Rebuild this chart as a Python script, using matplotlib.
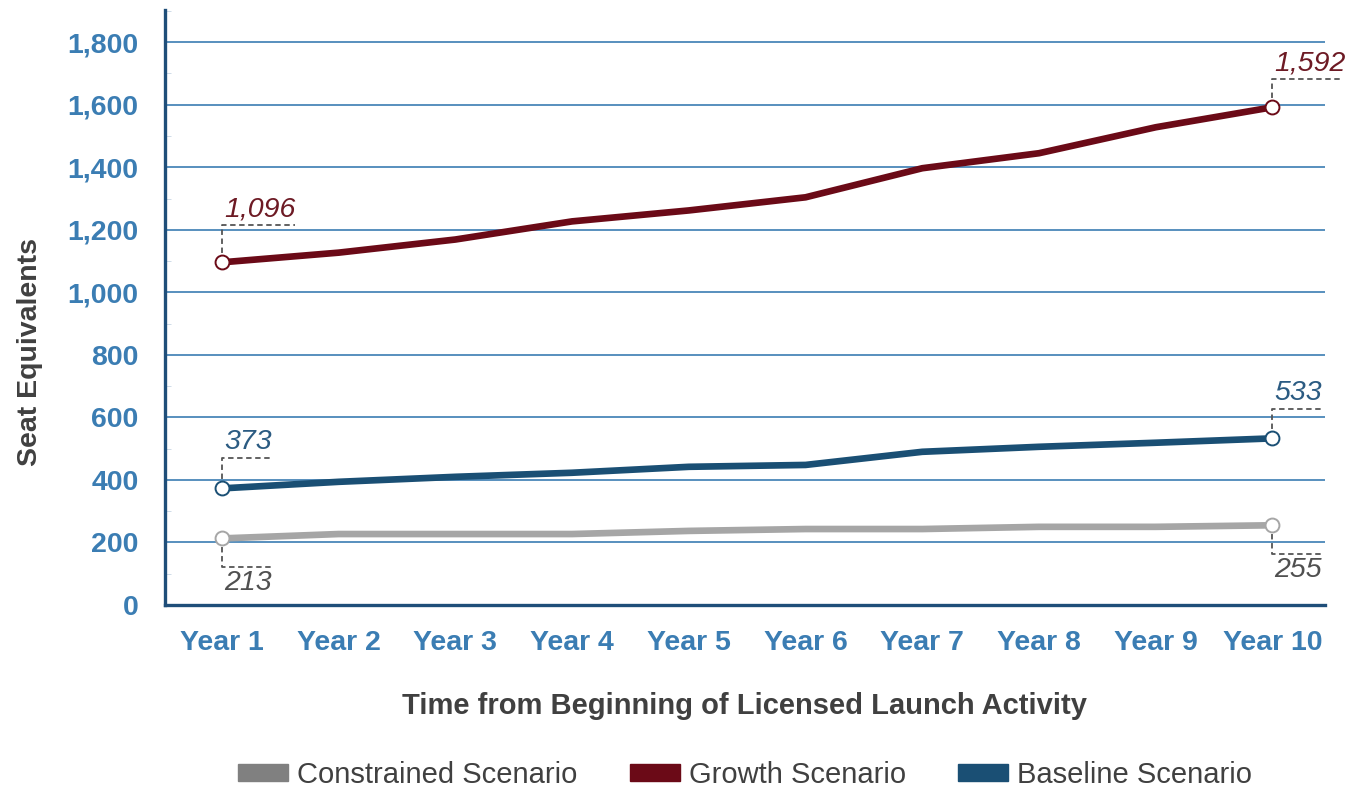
import matplotlib.pyplot as plt
from matplotlib.patches import Patch
from matplotlib.ticker import FuncFormatter, MultipleLocator

plt.rcParams['font.family'] = ['Liberation Sans', 'DejaVu Sans']

years = ['Year 1', 'Year 2', 'Year 3', 'Year 4', 'Year 5',
         'Year 6', 'Year 7', 'Year 8', 'Year 9', 'Year 10']
growth = [1096, 1127, 1169, 1227, 1262, 1304, 1397, 1445, 1528, 1592]
baseline = [373, 394, 410, 423, 442, 448, 490, 506, 519, 533]
constrained = [213, 227, 227, 227, 237, 243, 243, 250, 250, 255]

c_growth = '#6b0a17'
c_base = '#1a4f74'
c_cons = '#a6a6a6'
c_tick = '#3b7db3'
c_text = '#404040'

fig = plt.figure(figsize=(13.57, 7.89), dpi=100)
ax = fig.add_axes([0.1216, 0.2332, 0.8548, 0.7541])

x = list(range(1, len(years) + 1))

for vals, col in [(constrained, c_cons), (baseline, c_base), (growth, c_growth)]:
    ax.plot(x, vals, color=col, lw=4.8, solid_capstyle='butt', zorder=3)
    ax.plot([x[0], x[-1]], [vals[0], vals[-1]], ls='none', marker='o',
            ms=10, mfc='white', mec=col, mew=1.4, zorder=4)

ax.set_xlim(0.512, 10.45)
ax.set_ylim(0, 1903)

# pixel -> data scales for the label connectors
px_x = (10.45 - 0.512) / (0.8548 * 1357)
px_y = 1903 / (0.7541 * 789)


def callout(xv, yv, text, col, up, dy, dx):
    s = 1 if up else -1
    y2 = yv + s * dy * px_y
    x2 = xv + dx * px_x
    ax.plot([xv, xv, x2], [yv, y2, y2], ls=(0, (3, 2)), color='#555555',
            lw=1.3, clip_on=False, zorder=2)
    ax.text(xv + 2 * px_x, y2 + s * 3 * px_y, text, color=col, fontsize=20.5,
            style='italic', ha='left', va='bottom' if up else 'top')


callout(x[0], growth[0], f'{growth[0]:,}', '#6d1a24', True, 37, 73)
callout(x[-1], growth[-1], f'{growth[-1]:,}', '#6d1a24', True, 28, 70)
callout(x[0], baseline[0], f'{baseline[0]:,}', '#2b5b82', True, 30, 50)
callout(x[-1], baseline[-1], f'{baseline[-1]:,}', '#2b5b82', True, 29, 50)
callout(x[0], constrained[0], f'{constrained[0]:,}', '#505050', False, 29, 50)
callout(x[-1], constrained[-1], f'{constrained[-1]:,}', '#505050', False, 29, 50)

ax.set_yticks(range(0, 1801, 200))
ax.yaxis.set_minor_locator(MultipleLocator(100))
ax.yaxis.set_major_formatter(FuncFormatter(lambda v, p: f'{int(v):,}'))
ax.set_xticks(x)
ax.set_xticklabels(years)
ax.grid(axis='y', color=c_tick, lw=1.2, zorder=1)
ax.set_axisbelow(True)

for lab in ax.get_xticklabels() + ax.get_yticklabels():
    lab.set_fontweight('bold')
    lab.set_color(c_tick)
    lab.set_fontsize(20.5)
ax.tick_params(axis='y', which='major', length=0, pad=19)
ax.tick_params(axis='y', which='minor', length=4, direction='in', color='#c8d6e4')
ax.tick_params(axis='x', length=0, pad=18)

for side in ['top', 'right']:
    ax.spines[side].set_visible(False)
for side in ['left', 'bottom']:
    ax.spines[side].set_color('#1f4e79')
    ax.spines[side].set_linewidth(2.4)

ax.set_ylabel('Seat Equivalents', fontsize=20.5, fontweight='bold',
              color=c_text)
ax.set_xlabel('Time from Beginning of Licensed Launch Activity', fontsize=21,
              fontweight='bold', color=c_text, labelpad=26)
ax.yaxis.set_label_coords(-0.105, 0.426)

handles = [Patch(color='#808080', label='Constrained Scenario'),
           Patch(color=c_growth, label='Growth Scenario'),
           Patch(color=c_base, label='Baseline Scenario')]
fig.legend(handles=handles, loc='center', bbox_to_anchor=(0.549, 0.018),
           ncol=3, frameon=False, fontsize=21, handlelength=1.72,
           handleheight=0.52, handletextpad=0.3, columnspacing=1.8,
           labelcolor=c_text)

fig.savefig('out.png', dpi=100)
